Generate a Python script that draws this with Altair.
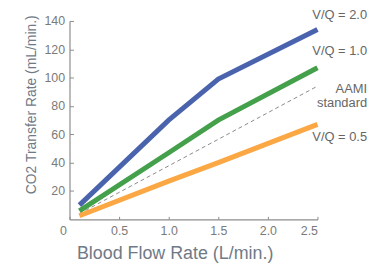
import altair as alt
import pandas as pd

flow = [0.1, 1.0, 1.5, 2.5]
vq20 = [10, 70, 99, 134]
vq10 = [6, 47, 70, 107]
vq05 = [2.5, 27, 40, 67]
aami_x = [0.1, 2.5]
aami_y = [4, 94]

series_names = ["V/Q = 2.0", "V/Q = 1.0", "V/Q = 0.5"]
colors = ["#4a63ad", "#44a04a", "#fba844"]

label_text = ["V/Q = 2.0", "V/Q = 1.0", "AAMI", "standard", "V/Q = 0.5"]
label_y = [144, 119, 92, 82, 58]

x_ticks = [0, 0.5, 1.0, 1.5, 2.0, 2.5]
y_ticks = [20, 40, 60, 80, 100, 120, 140]

rows = []
for name, vals in zip(series_names, [vq20, vq10, vq05]):
    for x, y in zip(flow, vals):
        rows.append({"series": name, "flow": x, "rate": y})
df = pd.DataFrame(rows)
df_aami = pd.DataFrame({"flow": aami_x, "rate": aami_y})
df_lab = pd.DataFrame({"text": label_text, "rate": label_y, "flow": [3.0] * len(label_text)})

FONT = "Liberation Sans"

xscale = alt.Scale(domain=[0, 2.5], nice=False)
yscale = alt.Scale(domain=[0, 140], nice=False)

xaxis = alt.Axis(
    values=x_ticks,
    labelExpr="datum.value == 0 ? '0' : format(datum.value, '.1f')",
    labelOffset={"condition": {"test": "datum.value == 0", "value": -10}, "value": 0},
    title="Blood Flow Rate (L/min.)",
    grid=False,
    tickSize={"expr": "-3"},
    labelOverlap=False,
    labelFontSize=12.5,
    titleFontSize=18,
    titleFontWeight="normal",
    titleX=106,
    titlePadding=8,
    labelPadding=8,
)
yaxis = alt.Axis(
    values=y_ticks,
    title="CO2 Transfer Rate (mL/min.)",
    grid=False,
    tickSize={"expr": "-4"},
    labelOverlap=False,
    labelFontSize=12.5,
    titleFontSize=14,
    titleFontWeight="normal",
    titleY=84,
    titlePadding=5,
    labelPadding=9,
)

lines = alt.Chart(df).mark_line(strokeWidth=5, clip=False).encode(
    x=alt.X("flow:Q", scale=xscale, axis=xaxis),
    y=alt.Y("rate:Q", scale=yscale, axis=yaxis),
    color=alt.Color("series:N", scale=alt.Scale(domain=series_names, range=colors), legend=None),
)

aami = alt.Chart(df_aami).mark_line(strokeWidth=1, strokeDash=[4, 3], color="#8a8a8a").encode(
    x=alt.X("flow:Q", scale=xscale, axis=xaxis),
    y=alt.Y("rate:Q", scale=yscale, axis=yaxis),
)

labels = alt.Chart(df_lab).mark_text(
    align="right", baseline="middle", fontSize=13, font=FONT, color="#666666", clip=False
).encode(
    x=alt.X("flow:Q", scale=xscale, axis=xaxis),
    y=alt.Y("rate:Q", scale=yscale, axis=yaxis),
    text="text:N",
)

chart = alt.layer(aami, lines, labels).properties(
    width=250,
    height=200,
    autosize=alt.AutoSizeParams(type="none"),
    padding={"left": 62, "top": 12, "right": 60, "bottom": 48},
).configure_view(stroke=None).configure_axis(
    domainColor="#8c8c8c",
    tickColor="#8c8c8c",
    labelColor="#7a7a7a",
    titleColor="#6f7a86",
    labelFont=FONT,
    titleFont=FONT,
    domainWidth=1.2,
)

chart.save("out.html", embed_options={"renderer": "svg", "actions": False})
